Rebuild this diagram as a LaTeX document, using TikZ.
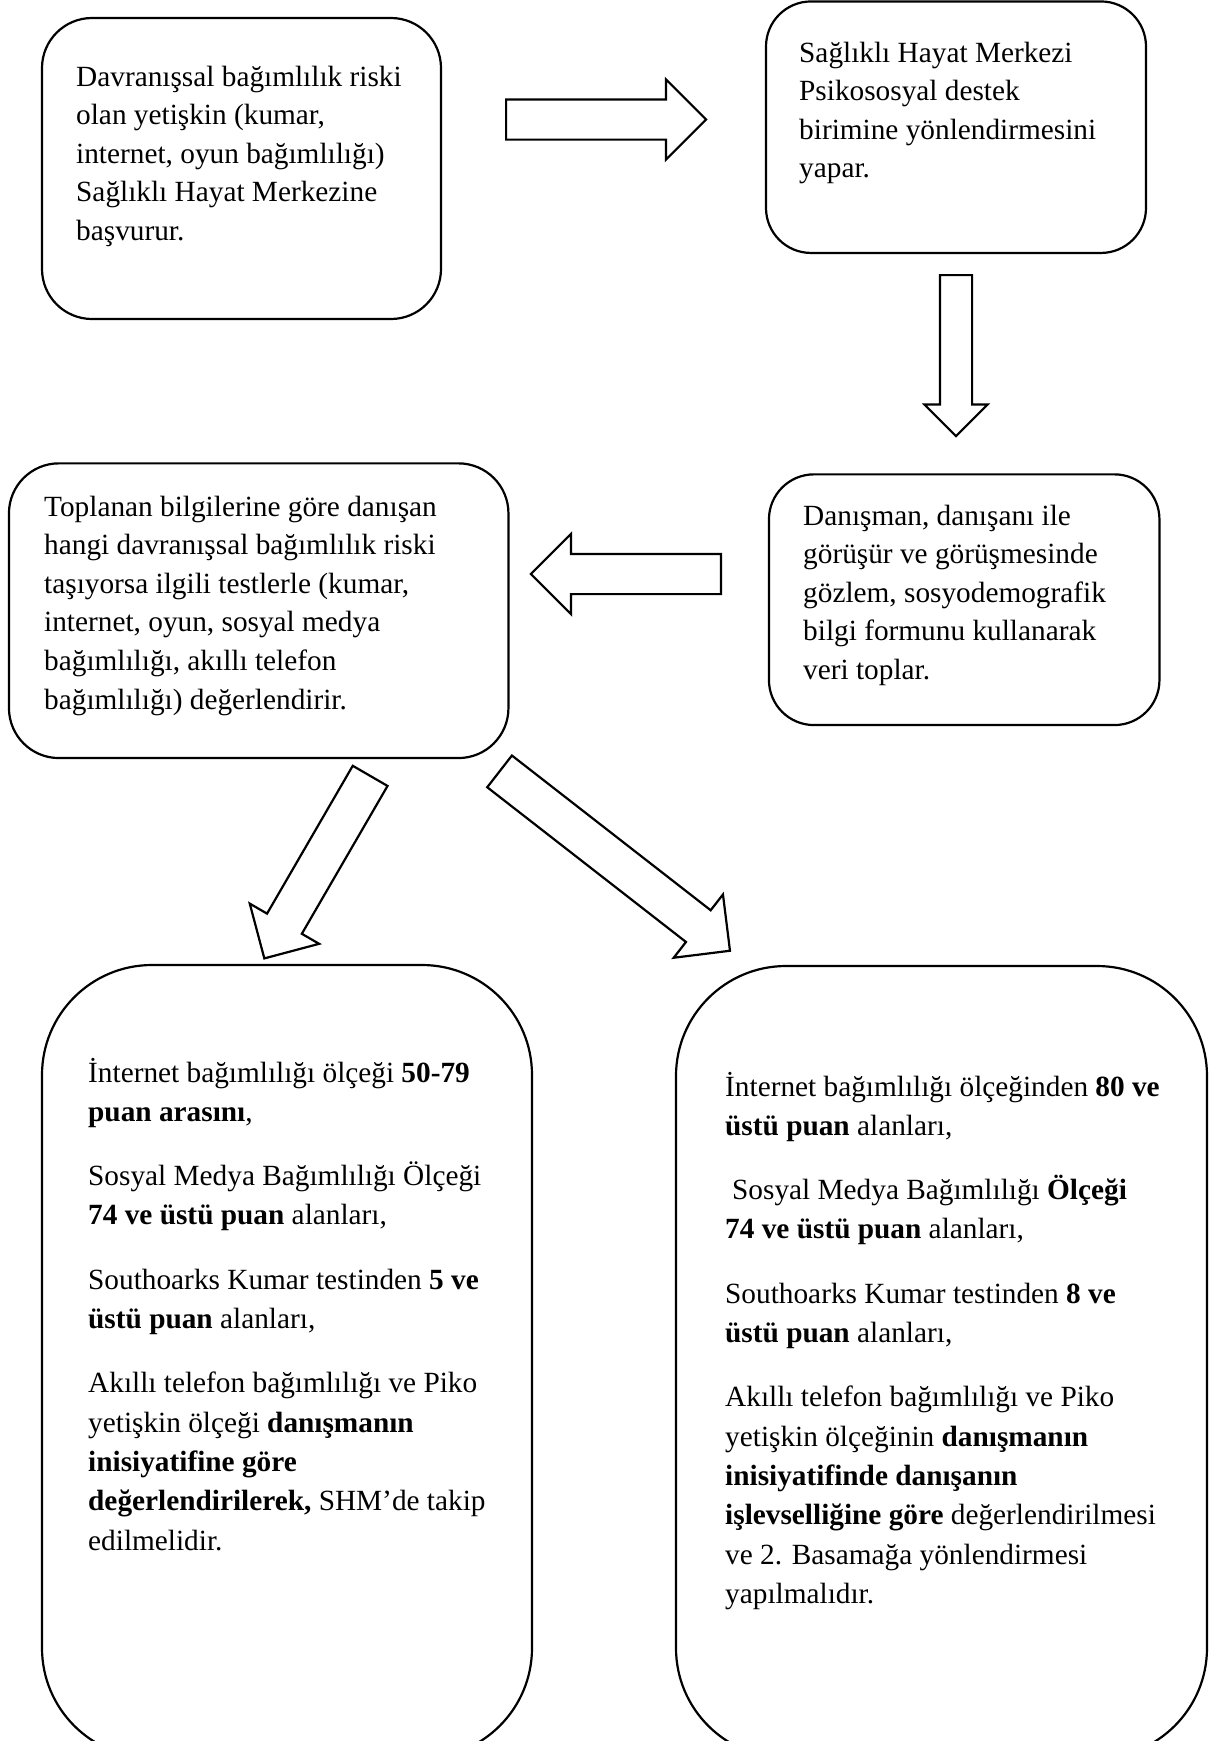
\documentclass[tikz,border=0pt]{standalone}
\usepackage{fontspec}
\setmainfont{Liberation Serif}
\usetikzlibrary{shapes.arrows}

\tikzset{
  kutu/.style={draw, line width=2.2pt, inner sep=0pt},
  ok/.style={single arrow, draw, fill=white, line width=2.2pt, anchor=tail,
    minimum width=0pt, inner xsep=0pt, inner ysep=19pt,
    single arrow head extend=20pt, single arrow tip angle=90,
    single arrow head indent=0pt},
  kucukok/.style={ok, inner ysep=15pt, single arrow head extend=15.5pt},
  yazi/.style={anchor=base west, inner sep=0pt, font=\fontsize{29.3}{38.6}\selectfont},
  altyazi/.style={yazi, font=\fontsize{29.3}{39.3}\selectfont}
}

\begin{document}
\begin{tikzpicture}[x=1pt,y=-1pt] %Akis semasi: danisan yonlendirme
  \useasboundingbox (0,0) rectangle (1208,1741);
  \fill[white] (0,0) rectangle (1208,1741);
  \clip (0,0) rectangle (1208,1741);

  % kutular
  \node[kutu, minimum width=399pt, minimum height=301pt, rounded corners=50pt] (kutu1) at (241.5,168.5) {};
  \node[kutu, minimum width=380pt, minimum height=251.5pt, rounded corners=45pt] (kutu2) at (956,127.2) {};
  \node[kutu, minimum width=499.5pt, minimum height=294.7pt, rounded corners=50pt] (kutu3) at (258.7,610.7) {};
  \node[kutu, minimum width=390.5pt, minimum height=250.7pt, rounded corners=45pt] (kutu4) at (964.2,599.7) {};
  \node[kutu, minimum width=490pt, minimum height=793pt, rounded corners=110pt] (kutu5) at (287,1361.5) {};
  \node[kutu, minimum width=531pt, minimum height=792pt, rounded corners=110pt] (kutu6) at (941.5,1362) {};

  % oklar
  \node[ok, minimum height=200pt] (ok1) at (505,119.5) {};
  \node[kucukok, rotate=-90, minimum height=161pt] (ok2) at (956,274) {};
  \node[ok, rotate=180, minimum height=190pt] (ok3) at (722,574) {};
  \node[ok, rotate=239.9, minimum height=211pt] (ok4) at (370.7,774.9) {};
  \node[ok, rotate=-37.9, minimum height=292pt] (ok5) at (498.7,770.7) {};

  % metinler
  \node[yazi] (yazi1) at (76,86) {\parbox[t]{360pt}{Davranışsal bağımlılık riski\\
    olan yetişkin (kumar,\\
    internet, oyun bağımlılığı)\\
    Sağlıklı Hayat Merkezine\\
    başvurur.}};
  \node[yazi] (yazi2) at (799,62) {\parbox[t]{340pt}{Sağlıklı Hayat Merkezi\\
    Psikososyal destek\\
    birimine yönlendirmesini\\
    yapar.}};
  \node[yazi] (yazi3) at (44,516) {\parbox[t]{460pt}{Toplanan bilgilerine göre danışan\\
    hangi davranışsal bağımlılık riski\\
    taşıyorsa ilgili testlerle (kumar,\\
    internet, oyun, sosyal medya\\
    bağımlılığı, akıllı telefon\\
    bağımlılığı) değerlendirir.}};
  \node[yazi] (yazi4) at (803,525) {\parbox[t]{350pt}{Danışman, danışanı ile\\
    görüşür ve görüşmesinde\\
    gözlem, sosyodemografik\\
    bilgi formunu kullanarak\\
    veri toplar.}};
  \node[altyazi] (yazi5) at (88,1082) {\parbox[t]{440pt}{İnternet bağımlılığı ölçeği \textbf{50-79}\\
    \textbf{puan arasını},\\[25pt]
    Sosyal Medya Bağımlılığı Ölçeği\\
    \textbf{74 ve üstü puan} alanları,\\[25pt]
    Southoarks Kumar testinden \textbf{5 ve}\\
    \textbf{üstü puan} alanları,\\[25pt]
    Akıllı telefon bağımlılığı ve Piko\\
    yetişkin ölçeği \textbf{danışmanın}\\
    \textbf{inisiyatifine göre}\\
    \textbf{değerlendirilerek,} SHM’de takip\\
    edilmelidir.}};
  \node[altyazi] (yazi6) at (725,1096) {\parbox[t]{470pt}{İnternet bağımlılığı ölçeğinden \textbf{80 ve}\\
    \textbf{üstü puan} alanları,\\[25pt]
    \hspace*{7pt}Sosyal Medya Bağımlılığı \textbf{Ölçeği}\\
    \textbf{74 ve üstü puan} alanları,\\[25pt]
    Southoarks Kumar testinden \textbf{8 ve}\\
    \textbf{üstü puan} alanları,\\[25pt]
    Akıllı telefon bağımlılığı ve Piko\\
    yetişkin ölçeğinin \textbf{danışmanın}\\
    \textbf{inisiyatifinde danışanın}\\
    \textbf{işlevselliğine göre} değerlendirilmesi\\
    ve 2. Basamağa yönlendirmesi\\
    yapılmalıdır.}};
\end{tikzpicture}
\end{document}
